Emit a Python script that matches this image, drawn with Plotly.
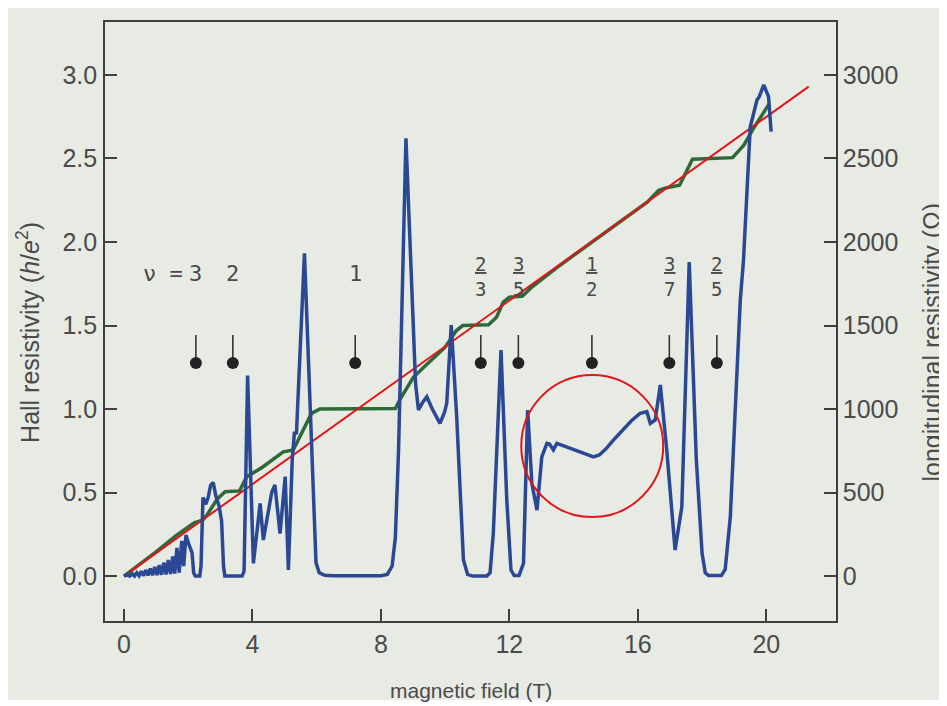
import plotly.graph_objects as go

# ---------------- data ----------------
# Hall resistivity (h/e^2) vs magnetic field (T)
hall_B = [0.0, 0.5, 1.0, 1.64, 2.0, 2.2, 2.45, 2.6, 2.9, 3.15, 3.6, 3.7, 3.82, 4.3, 4.96, 5.27,
          5.48, 5.84, 6.1, 8.45, 8.6, 9.01, 9.5, 10.0, 10.35, 10.55, 11.35, 11.6, 11.81, 12.0,
          12.4, 12.7, 13.5, 14.5, 15.5, 16.3, 16.65, 16.9, 17.3, 17.5, 17.7, 18.95, 19.3,
          19.6, 19.85, 20.1]
hall_rho = [0.0, 0.072, 0.145, 0.245, 0.29, 0.32, 0.335, 0.37, 0.46, 0.505, 0.51, 0.55, 0.594,
            0.65, 0.744, 0.755, 0.834, 0.974, 1.0, 1.003, 1.06, 1.19, 1.28, 1.37, 1.47, 1.5,
            1.505, 1.55, 1.64, 1.67, 1.675, 1.73, 1.85, 1.99, 2.13, 2.24, 2.31, 2.325, 2.34,
            2.42, 2.495, 2.505, 2.58, 2.68, 2.76, 2.83]

# longitudinal resistivity (Ohm) vs magnetic field (T)
rxx_B = [0.00, 0.10, 0.18, 0.26, 0.33, 0.40, 0.47, 0.54, 0.61, 0.68, 0.75, 0.82, 0.89, 0.96,
         1.03, 1.10, 1.17, 1.24, 1.31, 1.38, 1.45, 1.52, 1.58, 1.65, 1.72, 1.80, 1.86, 1.93,
         2.02, 2.12, 2.17, 2.22, 2.36, 2.40, 2.46, 2.55, 2.62, 2.70, 2.78, 2.86, 2.96, 3.04,
         3.10, 3.14, 3.68, 3.74, 3.85, 4.03, 4.24, 4.34, 4.60, 4.70, 4.86, 5.02, 5.12, 5.24,
         5.31, 5.37, 5.62, 5.85, 5.98, 6.08, 6.25, 6.5, 8.0, 8.2, 8.35, 8.45, 8.55, 8.78,
         8.96, 9.08, 9.17, 9.3, 9.43, 9.6, 9.84, 9.98, 10.05, 10.19, 10.36, 10.57, 10.70,
         10.85, 11.3, 11.4, 11.5, 11.74, 11.92, 12.05, 12.15, 12.3, 12.44, 12.57, 12.7,
         12.86, 13.01, 13.17, 13.25, 13.37, 13.48, 13.6, 13.8, 14.0, 14.2, 14.4, 14.62,
         14.8, 15.0, 15.24, 15.5, 15.8, 16.07, 16.28, 16.39, 16.54, 16.7, 16.9, 17.16,
         17.37, 17.6, 17.82, 18.0, 18.1, 18.2, 18.6, 18.72, 18.88, 19.19, 19.29, 19.5,
         19.71, 19.78, 19.92, 20.07, 20.15]
rxx_R = [0, 8, 0, 14, 0, 20, 2, 28, 3, 36, 4, 45, 5, 55,
         6, 66, 8, 80, 10, 96, 12, 118, 15, 168, 20, 210, 60, 245,
         190, 140, 20, 0, 0, 60, 470, 430, 470, 545, 560, 480, 420, 330,
         60, 0, 0, 30, 1200, 76, 435, 216, 500, 545, 255, 595, 36, 700,
         864, 850, 1932, 814, 80, 20, 5, 2, 2, 10, 60, 230, 755, 2621,
         1732, 1150, 994, 1040, 1074, 1000, 914, 980, 1034, 1503, 954, 96, 10,
         0, 0, 20, 255, 1353, 455, 36, 3, 3, 76, 994, 555,
         395, 714, 794, 790, 755, 794, 785, 770, 755, 740, 725, 714,
         725, 760, 814, 870, 930, 974, 984, 914, 934, 1144, 755, 156,
         415, 1880, 700, 136, 20, 3, 3, 40, 355, 1653, 1892, 2690,
         2850, 2870, 2940, 2870, 2661]

# classical Hall line (red)
line_B = [0.18, 21.32]
line_rho = [0.025, 2.93]

# filling-factor markers
nu_B = [2.24, 3.39, 7.2, 11.11, 12.28, 14.57, 16.98, 18.46]
nu_labels = ["3", "2", "1", "<u>2</u><br>3", "<u>3</u><br>5", "<u>1</u><br>2",
             "<u>3</u><br>7", "<u>2</u><br>5"]
nu_dot_rho = 1.275
nu_stem = 0.168
nu_label_rho = [1.814, 1.814, 1.814, 1.796, 1.796, 1.796, 1.796, 1.796]

# highlighted region (red circle)
circle_center = (14.58, 0.778)
circle_radius = (2.21, 0.425)

# axis ticks
x_ticks = [0, 4, 8, 12, 16, 20]
y_ticks = [0.0, 0.5, 1.0, 1.5, 2.0, 2.5, 3.0]
y_ticktext = ["0.0", "0.5", "1.0", "1.5", "2.0", "2.5", "3.0"]
y2_ticks = [0, 500, 1000, 1500, 2000, 2500, 3000]

# ---------------- figure ----------------
BLUE = "#2a4894"
GREEN = "#2e6a38"
RED = "#e0161b"
INK = "#3f3f3f"
TXT = "#4a4a4a"
PAPER = "#e7ebe4"
SANS = "Liberation Sans, Arial, sans-serif"

fig = go.Figure()

fig.add_trace(go.Scatter(x=rxx_B, y=rxx_R, yaxis="y2", mode="lines",
                         line=dict(color=BLUE, width=3.5), name="longitudinal"))
fig.add_trace(go.Scatter(x=hall_B, y=hall_rho, mode="lines",
                         line=dict(color=GREEN, width=3.5), name="Hall"))
fig.add_trace(go.Scatter(x=line_B, y=line_rho, mode="lines",
                         line=dict(color=RED, width=2), name="classical"))
fig.add_trace(go.Scatter(
    x=nu_B, y=[nu_dot_rho] * len(nu_B), mode="markers",
    marker=dict(color="#222222", size=12),
    error_y=dict(type="data", symmetric=False, array=[nu_stem] * len(nu_B),
                 arrayminus=[0] * len(nu_B), width=0, thickness=1.6, color="#333333"),
    name="nu"))

for b, t, r in zip(nu_B, nu_labels, nu_label_rho):
    small = "<br>" in t
    fig.add_annotation(x=b, y=r, xref="x", yref="y", text=t, showarrow=False,
                       xanchor="center", yanchor="middle",
                       font=dict(family="DejaVu Sans Mono", size=19 if small else 22, color=TXT))
fig.add_annotation(x=nu_B[0] - 0.33, y=nu_label_rho[0], xref="x", yref="y", text="ν =",
                   showarrow=False, xanchor="right", yanchor="middle",
                   font=dict(family="DejaVu Sans Mono", size=22, color=TXT))

cx, cy = circle_center
rx, ry = circle_radius
fig.add_shape(type="circle", xref="x", yref="y", x0=cx - rx, x1=cx + rx, y0=cy - ry, y1=cy + ry,
              line=dict(color=RED, width=2))

# paper-coloured sheet, leaving a thin white strip at the bottom (scan look)
fig.add_shape(type="rect", xref="paper", yref="paper", x0=-0.2, x1=1.2, y0=-0.1319, y1=1.1,
              fillcolor=PAPER, line=dict(width=0), layer="below")

# axis titles
fig.add_annotation(xref="paper", yref="paper", x=0.5, y=-0.1152, text="magnetic field (T)",
                   showarrow=False, xanchor="center", yanchor="middle",
                   font=dict(family=SANS, size=21, color=TXT))
fig.add_annotation(xref="paper", yref="paper", x=-0.1053, y=0.481,
                   text="Hall resistivity (<i>h</i>/<i>e</i><sup>2</sup>)", textangle=-90,
                   showarrow=False, xanchor="center", yanchor="middle",
                   font=dict(family=SANS, size=25, color=TXT))
fig.add_annotation(xref="paper", yref="paper", x=1.1313, y=0.4666,
                   text="longitudinal resistivity (Ω)", textangle=-90,
                   showarrow=False, xanchor="center", yanchor="middle",
                   font=dict(family=SANS, size=25, color=TXT))

axis_common = dict(showgrid=False, zeroline=False, ticks="inside", ticklen=12, tickwidth=1.5,
                   tickcolor=INK, showline=True, linecolor=INK, linewidth=1.6, automargin=False,
                   tickfont=dict(family=SANS, size=25, color=TXT))

fig.update_layout(
    width=939, height=698, autosize=False,
    margin=dict(l=97, r=111, t=14, b=85),
    paper_bgcolor="white", plot_bgcolor=PAPER,
    showlegend=False,
    xaxis=dict(range=[-0.59, 22.17], tickvals=x_ticks, mirror=True, ticklabelstandoff=0,
               **axis_common),
    yaxis=dict(range=[-0.269, 3.317], tickvals=y_ticks, ticktext=y_ticktext, mirror=True,
               ticklabelstandoff=1, **axis_common),
    yaxis2=dict(range=[-269, 3317], tickvals=y2_ticks, overlaying="y", side="right",
                ticklabelstandoff=0, **axis_common),
)

fig.write_html("out.html")
